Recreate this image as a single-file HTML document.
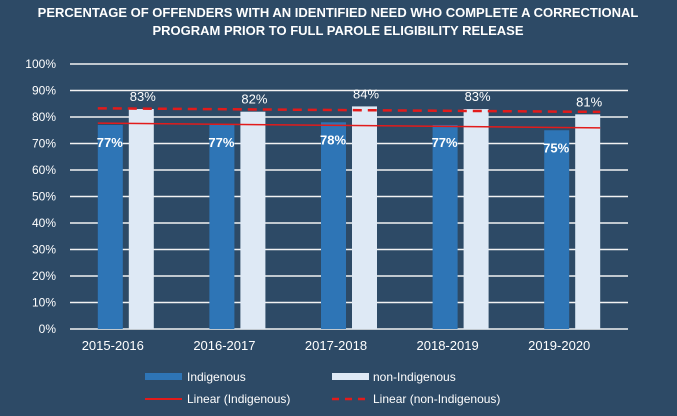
<!DOCTYPE html>
<html><head><meta charset="utf-8"><style>
html,body{margin:0;padding:0;background:#2d4a66;}
svg{display:block;font-family:"Liberation Sans",Arial,sans-serif;}
</style></head><body>
<svg id="chart" width="677" height="416" viewBox="0 0 677 416" xmlns="http://www.w3.org/2000/svg">
<rect x="0" y="0" width="677" height="416" fill="#2d4a66"/>
<text x="338" y="17" text-anchor="middle" fill="#fff" font-size="13" font-weight="bold">PERCENTAGE OF OFFENDERS WITH AN IDENTIFIED NEED WHO COMPLETE A CORRECTIONAL</text>
<text x="338" y="35" text-anchor="middle" fill="#fff" font-size="13" font-weight="bold">PROGRAM PRIOR TO FULL PAROLE ELIGIBILITY RELEASE</text>
<g id="grid"></g><g id="bars"></g><g id="trend"></g><g id="labels"></g>
<g>
<rect x="145" y="373" width="37" height="7" fill="#2e75b6"/>
<text x="187" y="381" fill="#fff" font-size="12">Indigenous</text>
<rect x="332" y="373" width="37" height="7" fill="#dee9f5"/>
<text x="373" y="381" fill="#fff" font-size="12">non-Indigenous</text>
<line x1="145" y1="399" x2="182" y2="399" stroke="#e21b1b" stroke-width="2"/>
<text x="187" y="403" fill="#fff" font-size="12">Linear (Indigenous)</text>
<line x1="332" y1="399" x2="369" y2="399" stroke="#e21b1b" stroke-width="2.5" stroke-dasharray="7,6"/>
<text x="373" y="403" fill="#fff" font-size="12">Linear (non-Indigenous)</text>
</g>
</svg>
<script>
const categories=["2015-2016","2016-2017","2017-2018","2018-2019","2019-2020"];
const indigenous=[77,77,78,77,75];
const nonIndigenous=[83,82,84,83,81];
const yTicks=[0,10,20,30,40,50,60,70,80,90,100];
const NS="http://www.w3.org/2000/svg";
const x0=70,x1=628,yb=329,yt=64;
const bw=(x1-x0)/categories.length;
function xc(i){return x0+bw*(i+0.5);}
function y(v){return yb-(v/100)*(yb-yt);}
function mk(tag,attrs,parent,txt){const e=document.createElementNS(NS,tag);for(const k in attrs)e.setAttribute(k,attrs[k]);if(txt!==undefined)e.textContent=txt;document.getElementById(parent).appendChild(e);return e;}
yTicks.forEach(t=>{
  const l=mk('line',{x1:x0,x2:x1,y1:y(t),y2:y(t),stroke:'#f2f2f2','stroke-width':1.5},'grid');
  
  
  const tx=mk('text',{x:56,y:y(t)+4,'text-anchor':'end',fill:'#fff','font-size':12},'grid',t+'%');
  
  
});
categories.forEach((c,i)=>{
  const cx=xc(i);
  const b1=mk('rect',{x:cx-28,y:y(indigenous[i]),width:25,height:yb-y(indigenous[i]),fill:'#2e75b6'},'bars');
  
  
  const b2=mk('rect',{x:cx+3,y:y(nonIndigenous[i]),width:25,height:yb-y(nonIndigenous[i]),fill:'#dee9f5'},'bars');
  
  
  const l1=mk('text',{x:cx-16,y:y(indigenous[i])+22,'text-anchor':'middle',fill:'#fff','font-size':13,'font-weight':'bold'},'labels',indigenous[i]+'%');
  
  
  const l2=mk('text',{x:cx+17,y:y(nonIndigenous[i])-8,'text-anchor':'middle',fill:'#fff','font-size':13},'labels',nonIndigenous[i]+'%');
  
  
  const xl=mk('text',{x:cx-13,y:350,'text-anchor':'middle',fill:'#fff','font-size':13},'labels',c);
  
  
});
function fit(a){const n=a.length;const mx=(n-1)/2;const my=a.reduce((s,v)=>s+v,0)/n;let num=0,den=0;a.forEach((v,i)=>{num+=(i-mx)*(v-my);den+=(i-mx)*(i-mx);});const s=num/den;return i=>my+s*(i-mx);}
const fi=fit(indigenous),fn=fit(nonIndigenous);
const xa=xc(0)-28,xb=xc(categories.length-1)+28;
function fx(x){return (x-xc(0))/bw;}
const t1=mk('line',{x1:xa,x2:xb,y1:y(fi(fx(xa))),y2:y(fi(fx(xb))),stroke:'#e21b1b','stroke-width':1.5},'trend');


const t2=mk('line',{x1:xa,x2:xb,y1:y(fn(fx(xa))),y2:y(fn(fx(xb))),stroke:'#e21b1b','stroke-width':2.5,'stroke-dasharray':'9,6'},'trend');


</script>
</body></html>
